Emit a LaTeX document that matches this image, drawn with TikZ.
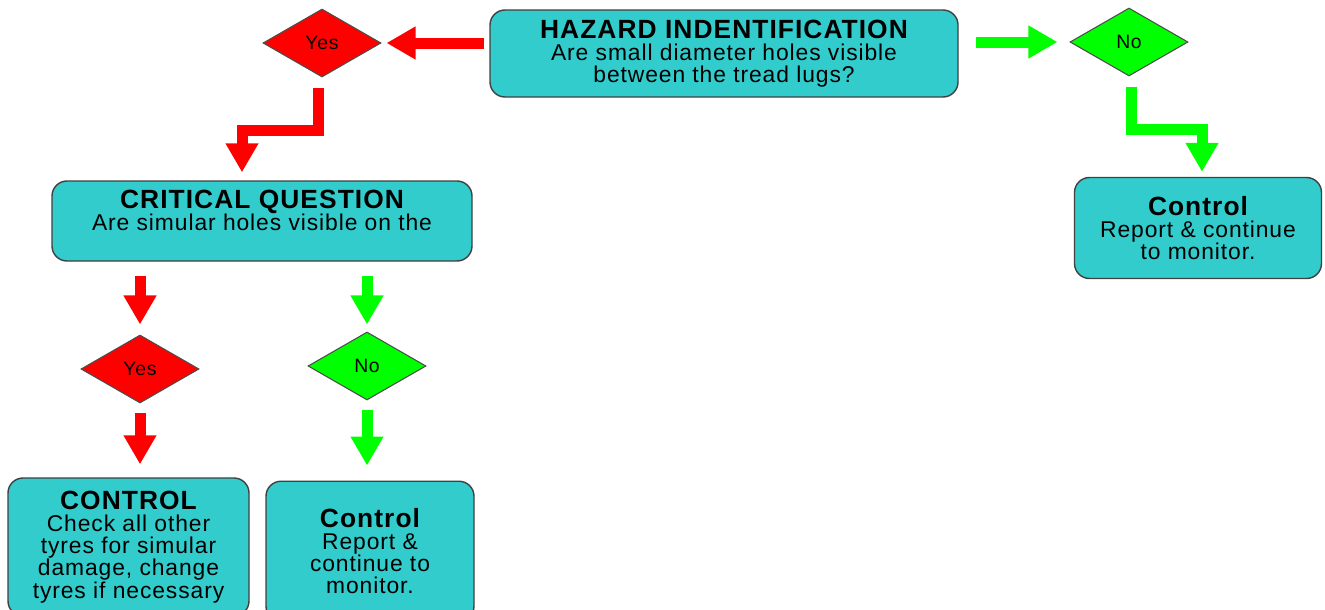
\documentclass[tikz,border=0pt]{standalone}
\usepackage{fontspec}
\setmainfont{Liberation Sans}[LetterSpace=4]
\usepackage{xcolor}
\usetikzlibrary{arrows.meta,positioning,shapes.geometric}

\definecolor{boxteal}{HTML}{33CCCC}
\definecolor{yesred}{HTML}{FF0000}
\definecolor{nogreen}{HTML}{00FF00}

\newcommand{\boxtitle}[1]{{\fontsize{15}{17}\selectfont\bfseries #1}}

\begin{document}
\begin{tikzpicture}[
  font=\fontsize{13}{12.6}\selectfont,
  box/.style={
    draw=black!75,
    fill=boxteal,
    rounded corners=0.3cm,
    line width=0.8pt,
    align=center,
    inner sep=2pt
  },
  decide/.style={
    diamond,
    draw=black!70,
    fill=#1,
    aspect=1.74,
    minimum width=2.36cm,
    minimum height=1.36cm,
    inner sep=0pt,
    line width=0.6pt,
    font=\fontsize{11}{13}\selectfont
  },
  flow/.style={
    draw=#1,
    line width=0.22cm,
    -{Triangle[width=0.62cm,length=0.58cm]}
  }
]
\useasboundingbox (0,0) rectangle (26.5,-12.18);

% ===== Hazard row =====
\node[box, minimum width=9.36cm, minimum height=1.74cm] (haz) at (14.48,-1.07)
  {\boxtitle{HAZARD INDENTIFICATION}\\Are small diameter holes visible\\between the tread lugs?};
\node[decide=yesred]   (yes1) at (6.44,-0.86)  {Yes};
\node[decide=nogreen]  (no1)  at (22.58,-0.84) {No};

\node[box, minimum width=4.94cm, minimum height=2.02cm] (ctrlR) at (23.96,-4.56)
  {\boxtitle{Control}\\Report \& continue\\to monitor.};

% ===== Critical question =====
\node[box, minimum width=8.4cm, minimum height=1.6cm] (crit) at (5.24,-4.42)
  {\boxtitle{CRITICAL QUESTION}\\Are simular holes visible on the\\ ~};

\node[decide=yesred]  (yes2) at (2.80,-7.38) {Yes};
\node[decide=nogreen] (no2)  at (7.34,-7.32) {No};

% ===== Controls =====
\node[box, minimum width=4.82cm, minimum height=2.76cm] (ctrlA) at (2.57,-10.94)
  {\boxtitle{CONTROL}\\Check all other\\tyres for simular\\damage, change\\tyres if necessary};
\node[box, minimum width=4.16cm, minimum height=2.8cm, below=1.6cm of no2, xshift=0.06cm] (ctrlB)
  {\boxtitle{Control}\\Report \&\\continue to\\monitor.};

% ===== Connectors =====
\draw[flow=yesred, shorten <=0.1cm, shorten >=0.1cm] (haz.west |- yes1) -- (yes1.east);
\draw[flow=nogreen, shorten <=0.34cm, shorten >=0.24cm] (haz.east |- no1) -- (no1.west);

\draw[flow=yesred, shorten <=0.2cm, shorten >=0.16cm]
  ([xshift=-0.08cm]yes1.south) -- ++(0,-1.06) -| ([xshift=-0.4cm]crit.north);
\draw[flow=nogreen, shorten <=0.2cm, shorten >=0.1cm]
  ([xshift=0.04cm]no1.south) -- ++(0,-1.06) -| ([xshift=0.08cm]ctrlR.north);

\draw[flow=yesred, shorten <=0.28cm, shorten >=0.2cm]  (crit.south -| yes2.north) -- (yes2.north);
\draw[flow=nogreen, shorten <=0.28cm, shorten >=0.14cm] (crit.south -| no2.north) -- (no2.north);

\draw[flow=yesred, shorten <=0.18cm, shorten >=0.26cm]  (yes2.south) -- (yes2.south |- ctrlA.north);
\draw[flow=nogreen, shorten <=0.18cm, shorten >=0.3cm]  (no2.south) -- (no2.south |- ctrlB.north);

\end{tikzpicture}
\end{document}
